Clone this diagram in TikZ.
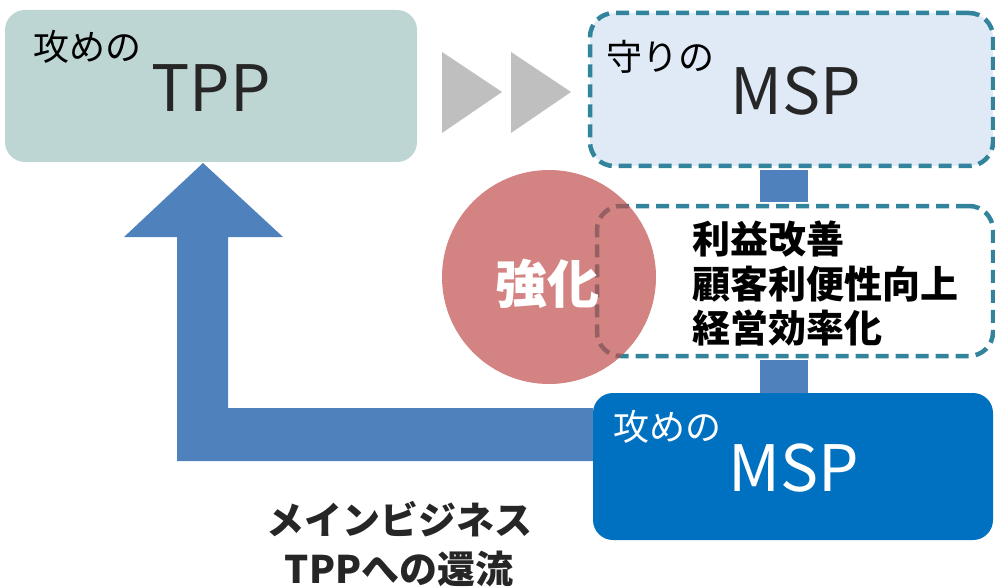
\documentclass[tikz,border=0pt]{standalone}
\usepackage{fontspec}
\setmainfont{Noto Sans CJK JP}
\usetikzlibrary{calc}
\definecolor{tppfill}{HTML}{BDD6D3}
\definecolor{mspfill}{HTML}{DFEAF6}
\definecolor{dashc}{HTML}{31849B}
\definecolor{barc}{HTML}{4F81BD}
\definecolor{deepblue}{HTML}{0070C0}
\definecolor{tri}{HTML}{BFBFBF}
\definecolor{circ}{HTML}{C0504D}
\definecolor{txt}{HTML}{262626}
\tikzset{
  box/.style={draw=none, rounded corners=20pt, inner sep=0pt},
  dashbox/.style={draw=dashc, line width=4.5pt, dash pattern=on 13pt off 7pt, rounded corners=24pt, inner sep=0pt},
  smalltxt/.style={font=\fontsize{36}{40}\selectfont, inner sep=0pt, anchor=base west},
  bigtxt/.style={font=\fontsize{64}{70}\selectfont, inner sep=0pt, anchor=base west, text=txt},
  boldtxt/.style={font=\fontsize{38}{45}\selectfont\bfseries, inner sep=0pt},
}
\begin{document}
\begin{tikzpicture}[x=1pt,y={(0pt,-1pt)}]
\useasboundingbox (0,0) rectangle (995,588);
\clip (0,0) rectangle (995,588);
% boxes
\node[box, fill=tppfill, minimum width=412pt, minimum height=152pt] (tpp) at (211,86) {};
\coordinate (bx) at (784,0);
\node[dashbox, fill=mspfill, minimum width=403pt, minimum height=153pt] (msp1) at (791.5,89.5) {};
\node[dashbox, minimum width=396pt, minimum height=150pt] (list) at (795,281) {};
\node[box, fill=deepblue, minimum width=400pt, minimum height=147pt] (msp2) at (793,466.5) {};
% connectors (bars)
\fill[barc] ($(msp1.south -| bx)+(-24,2)$) rectangle ($(list.north -| bx)+(24,-2)$);
\fill[barc] ($(list.south -| bx)+(-24,2)$) rectangle ($(msp2.north -| bx)+(24,0)$);
% gray triangles
\fill[tri] (442,52) -- (502,92) -- (442,133) -- cycle;
\fill[tri] (511,52) -- (571,92) -- (511,133) -- cycle;
% big L arrow
\coordinate (tip) at (203,163);
\coordinate (a1) at (msp2.west |- 0,408);
\coordinate (a2) at (msp2.west |- 0,461);
\fill[barc] (tip) -- (283,237) -- (228,237) -- (228,408) -- (a1) -- (a2) -- (177,461) -- (177,237) -- (124,237) -- cycle;
% circle
\node[circle, fill=circ, fill opacity=0.7, minimum size=214pt, inner sep=0pt] (kyoka) at (549,277) {};
% texts
\node[smalltxt] (t1) at (33,61) {攻めの};
\node[bigtxt] (t2) at (151,112) {TPP};
\node[smalltxt] (t3) at (606,71) {守りの};
\node[bigtxt] (t4) at (730,115) {MSP};
\node[smalltxt, text=white] (t5) at (613,440) {攻めの};
\node[bigtxt, text=white] (t6) at (728,491) {MSP};
\node[font=\fontsize{52}{56}\selectfont\bfseries, text=white, inner sep=0pt, anchor=base west] (t7) at (495,303) {強化};
\node[boldtxt, anchor=base west] (l1) at (692,253) {利益改善};
\node[boldtxt, anchor=base west] (l2) at (692,298) {顧客利便性向上};
\node[boldtxt, anchor=base west] (l3) at (692,342) {経営効率化};
\node[boldtxt, anchor=base, text=txt] (b1) at (399,534) {メインビジネス};
\node[boldtxt, anchor=base, text=txt] (b2) at (399,583) {TPPへの還流};
\end{tikzpicture}
\end{document}
